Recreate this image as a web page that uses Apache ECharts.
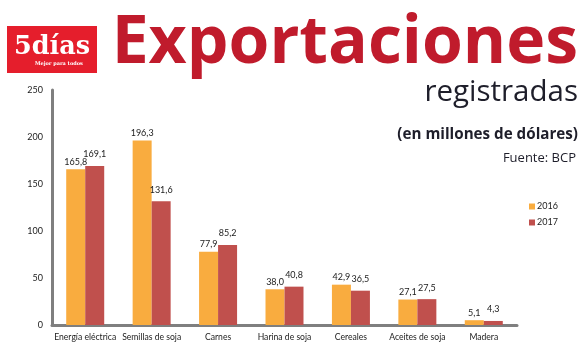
<!DOCTYPE html>
<html>
<head>
<meta charset="utf-8">
<script src="https://cdn.jsdelivr.net/npm/echarts@6/dist/echarts.min.js"></script>
<style>
  html, body { margin: 0; padding: 0; background: #fff; }
  #chart { width: 585px; height: 351px; }
</style>
</head>
<body>
<div id="chart"></div>
<script>
var categories = ['Energía eléctrica', 'Semillas de soja', 'Carnes', 'Harina de soja', 'Cereales', 'Aceites de soja', 'Madera'];
var values2016 = [165.8, 196.3, 77.9, 38.0, 42.9, 27.1, 5.1];
var values2017 = [169.1, 131.6, 85.2, 40.8, 36.5, 27.5, 4.3];
var yTicks = [0, 50, 100, 150, 200, 250];

var myChart = echarts.init(document.getElementById('chart'));

function fmt(p) {
    return p.value.toFixed(1).replace('.', ',');
}

var option = {
    animation: false,
    textStyle: { fontFamily: 'Lato' },
    title: [
        {
            text: 'Exportaciones',
            right: 7, top: 11, padding: 0,
            textStyle: { fontSize: 66, fontWeight: 'bold', color: '#C01B2C', fontFamily: 'Open Sans' }
        },
        {
            text: 'registradas',
            right: 7, top: 78, padding: 0,
            textStyle: { fontSize: 29.5, fontWeight: 'normal', color: '#1e1e2a', fontFamily: 'Open Sans' }
        },
        {
            text: '(en millones de dólares)',
            right: 7, top: 127, padding: 0,
            textStyle: { fontSize: 15.2, fontWeight: 'bold', color: '#1e1e2a', fontFamily: 'Open Sans' }
        },
        {
            text: 'Fuente: BCP',
            right: 9, top: 152, padding: 0,
            textStyle: { fontSize: 13, fontWeight: 'normal', color: '#1e1e2a', fontFamily: 'Open Sans' }
        }
    ],
    graphic: [
        {
            type: 'rect', left: 7, top: 26,
            shape: { width: 90, height: 47 },
            style: { fill: '#E51E2C' }
        },
        {
            type: 'text', left: 14, top: 34,
            style: { text: '5días', fill: '#fff', font: 'bold 25.5px "DejaVu Serif"' }
        },
        {
            type: 'text', left: 35, top: 61,
            style: { text: 'Mejor para todos', fill: '#fff', font: 'bold 5px "DejaVu Serif"' }
        }
    ],
    legend: {
        orient: 'vertical',
        left: 529, top: 202, padding: 0,
        itemWidth: 6, itemHeight: 6,
        itemGap: 7,
        icon: 'rect',
        textStyle: { fontSize: 9, color: '#222', padding: [0, 0, 0, -3] },
        data: ['2016', '2017']
    },
    grid: { left: 52, top: 90, width: 465, height: 235 },
    xAxis: {
        type: 'category',
        data: categories,
        axisLine: { lineStyle: { color: '#7f7f7f', width: 3 } },
        axisTick: { show: false },
        axisLabel: { fontSize: 8.6, color: '#222', margin: 8, interval: 0 }
    },
    yAxis: {
        type: 'value',
        min: yTicks[0], max: yTicks[yTicks.length - 1], interval: 50,
        axisLine: { show: true, lineStyle: { color: '#7f7f7f', width: 3 } },
        axisTick: { show: false },
        splitLine: { show: false },
        axisLabel: { fontSize: 9, color: '#222', margin: 9 }
    },
    series: [
        {
            name: '2016', type: 'bar', data: values2016,
            barWidth: 19, barGap: '0%',
            itemStyle: { color: '#F9AC3F' },
            label: { show: true, position: 'top', fontSize: 9, color: '#222', distance: 3, formatter: fmt }
        },
        {
            name: '2017', type: 'bar', data: values2017,
            barWidth: 19,
            itemStyle: { color: '#C0504D' },
            label: { show: true, position: 'top', fontSize: 9, color: '#222', distance: 7, formatter: fmt }
        }
    ]
};

myChart.setOption(option);
</script>
</body>
</html>
